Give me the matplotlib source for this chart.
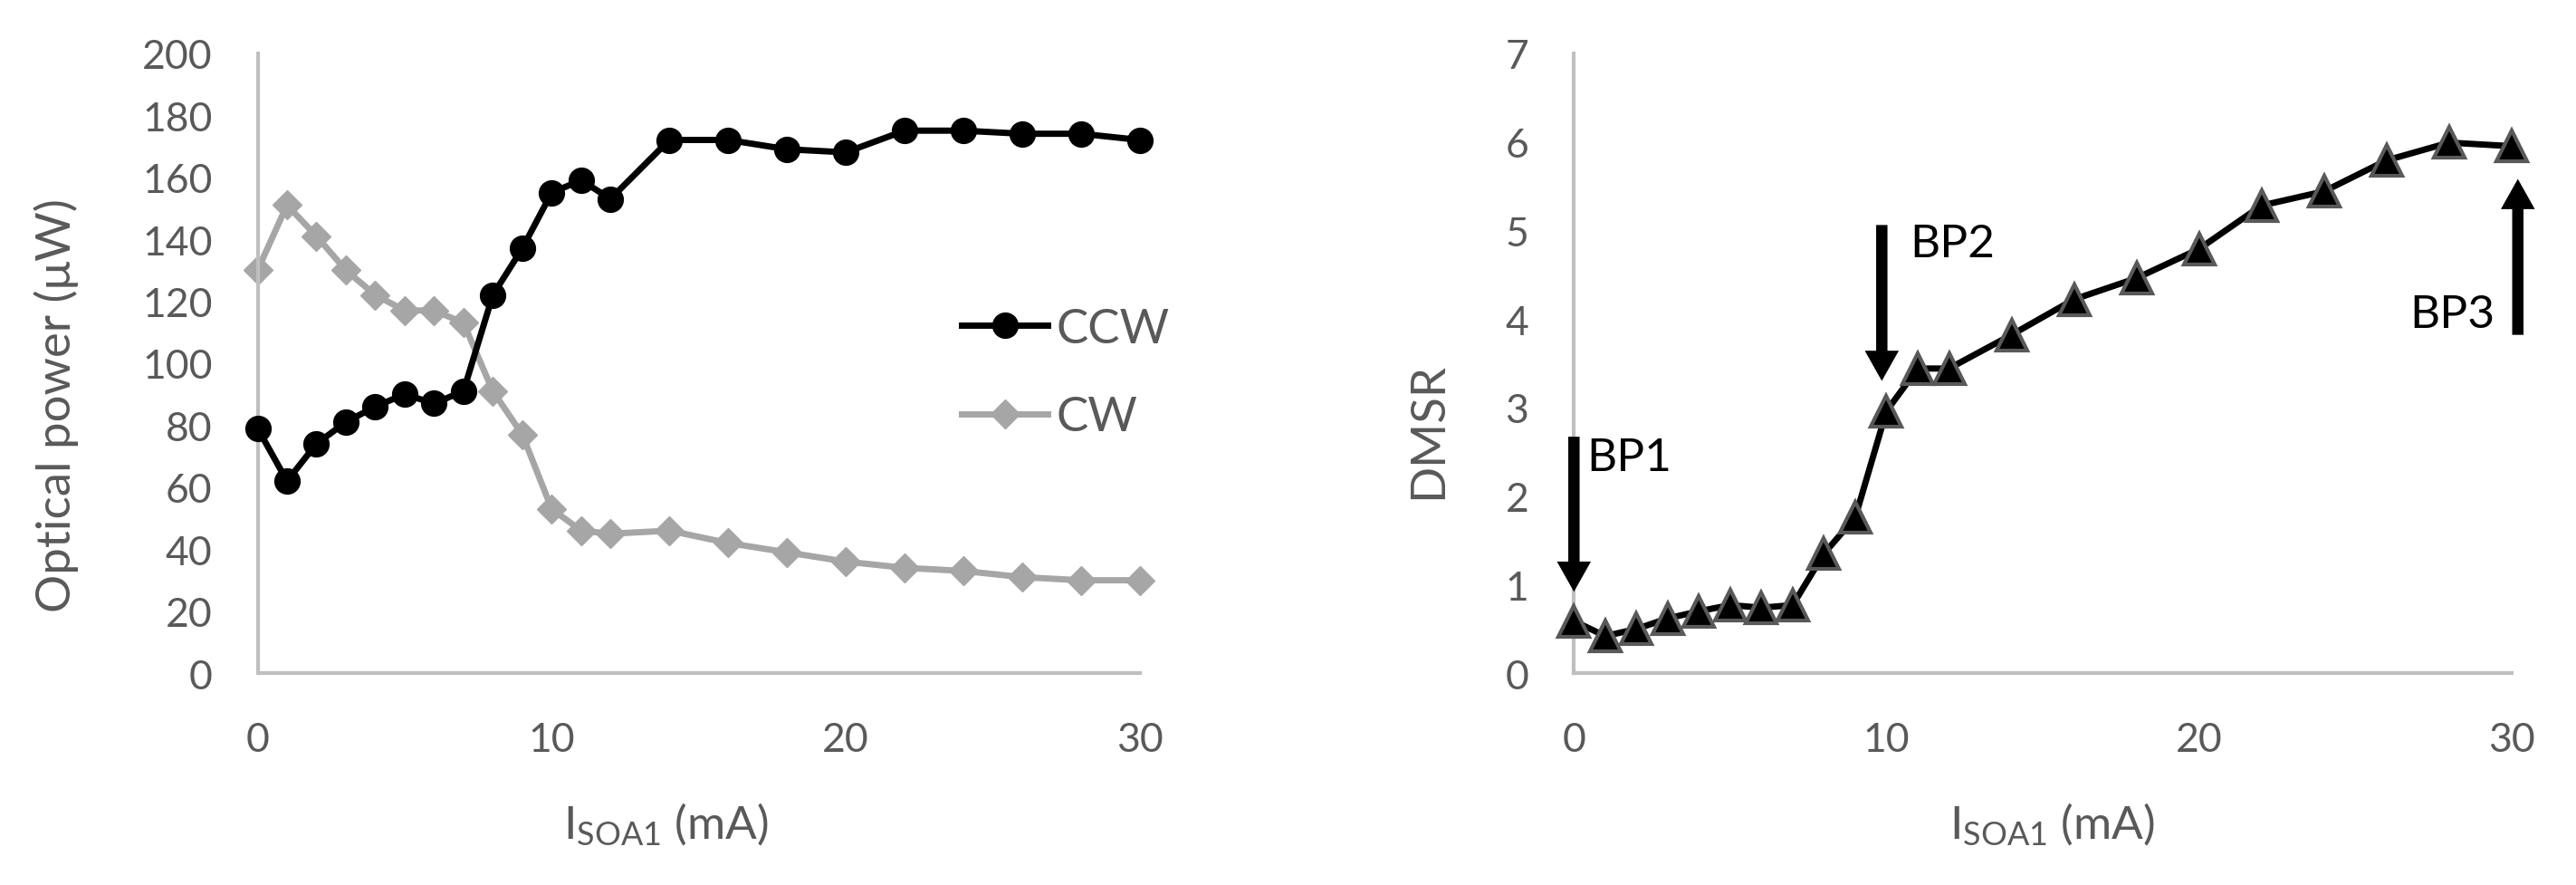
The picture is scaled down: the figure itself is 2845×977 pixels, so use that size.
import matplotlib
matplotlib.use('Agg')
import matplotlib.pyplot as plt

# data
current = [0, 1, 2, 3, 4, 5, 6, 7, 8, 9, 10, 11, 12, 14, 16, 18, 20, 22, 24, 26, 28, 30]
ccw_power = [79, 62, 74, 81, 86, 90, 87, 91, 122, 137, 155, 159, 153, 172, 172, 169, 168,
             175, 175, 174, 174, 172]
cw_power = [130, 151, 141, 130, 122, 117, 117, 113, 91, 77, 53, 46, 45, 46, 42, 39, 36,
            34, 33, 31, 30, 30]
dmsr = [0.59, 0.42, 0.50, 0.62, 0.70, 0.77, 0.74, 0.77, 1.35, 1.76, 2.96, 3.44, 3.44,
        3.82, 4.22, 4.46, 4.79, 5.28, 5.44, 5.79, 5.99, 5.95]

bp_labels = ['BP1', 'BP2', 'BP3']
bp_arrows = [(0.0, 2.67, 0.0, 0.92), (9.85, 5.06, 9.85, 3.30), (30.2, 3.82, 30.2, 5.58)]
bp_text = [(0.4, 2.44, 'left'), (10.75, 4.85, 'left'), (29.45, 4.05, 'right')]

plt.rcParams['font.family'] = ['Lato', 'DejaVu Sans']
grey_txt = '#595959'
spine_col = '#bfbfbf'

fig = plt.figure(figsize=(28.45, 9.78), dpi=100)
ax1 = fig.add_axes([0.100, 0.239, 0.3425, 0.700])
ax2 = fig.add_axes([0.611, 0.239, 0.364, 0.700])


def style(ax, ymax, ystep, xlab_x):
    for s in ['top', 'right']:
        ax.spines[s].set_visible(False)
    for s in ['left', 'bottom']:
        ax.spines[s].set_color(spine_col)
        ax.spines[s].set_linewidth(3)
    ax.set_xlim(0, 30)
    ax.set_ylim(0, ymax)
    ax.set_xticks([0, 10, 20, 30])
    ax.set_yticks([i * ystep for i in range(int(round(ymax / ystep)) + 1)])
    ax.tick_params(length=0, labelsize=32, labelcolor=grey_txt)
    ax.tick_params(axis='y', pad=36)
    ax.tick_params(axis='x', pad=38)
    ax.set_xlabel(r'$\mathregular{I_{SOA1}}$ (mA)', fontsize=37, color=grey_txt)
    ax.xaxis.set_label_coords(xlab_x, -0.205)


style(ax1, 200, 20, 0.463)
ax1.plot(current, ccw_power, color='black', lw=5, marker='o', markersize=20,
         label='CCW', clip_on=False, zorder=3)
ax1.plot(current, cw_power, color='#a6a6a6', lw=5, marker='D', markersize=16,
         label='CW', clip_on=False, zorder=2)
ax1.set_ylabel('Optical power (μW)', fontsize=38, color=grey_txt)
ax1.yaxis.set_label_coords(-0.203, 0.434)
ax1.legend(loc='center left', bbox_to_anchor=(0.798, 0.484), frameon=False, fontsize=38,
           labelcolor=grey_txt, handlelength=1.8, labelspacing=0.95, handletextpad=0.18,
           borderpad=0, borderaxespad=0)

style(ax2, 7, 1, 0.51)
ax2.plot(current, dmsr, color='black', lw=5, marker='^', markersize=24,
         markerfacecolor='black', markeredgecolor='#595959', markeredgewidth=3,
         clip_on=False, zorder=3)
ax2.set_ylabel('DMSR', fontsize=38, color=grey_txt)
ax2.yaxis.set_label_coords(-0.132, 0.393)

for lab, (x0, y0, x1, y1), (tx, ty, ha) in zip(bp_labels, bp_arrows, bp_text):
    ax2.annotate('', xy=(x1, y1), xytext=(x0, y0), annotation_clip=False,
                 arrowprops=dict(arrowstyle='simple,head_length=2.4,head_width=2.7,tail_width=0.9',
                                 mutation_scale=10, fc='black', ec='none', lw=0,
                                 shrinkA=0, shrinkB=0))
    ax2.text(tx, ty, lab, fontsize=37, color='black', ha=ha, va='center')

fig.savefig('out.png', dpi=100)
